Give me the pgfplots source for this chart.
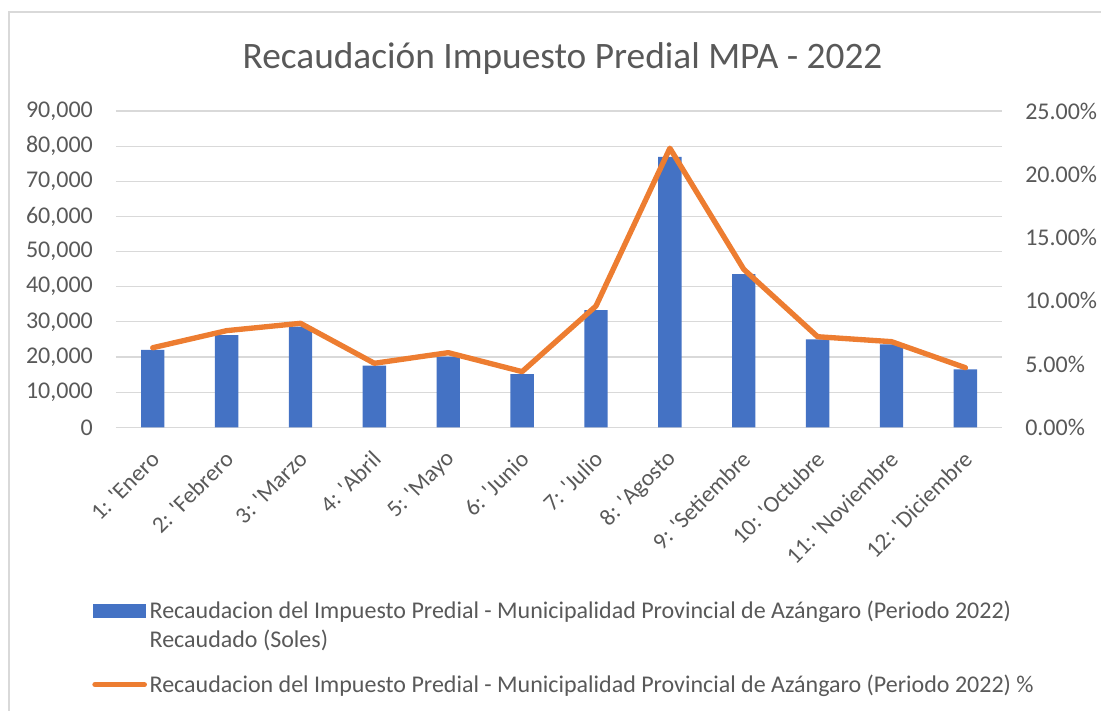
\documentclass[border=0pt]{standalone}
\usepackage{pgfplots}
\pgfplotsset{compat=1.18}
\usepackage{pgfplotstable}
\usepackage{fontspec}
\setmainfont{Carlito}
\definecolor{barblue}{HTML}{4472C4}
\definecolor{lineorange}{HTML}{ED7D31}
\definecolor{gridgray}{HTML}{D9D9D9}
\definecolor{txtgray}{HTML}{595959}

\pgfplotstableread{
m v p
1 22000 6.29
2 26260 7.64
3 28620 8.22
4 17520 5.06
5 20090 5.90
6 15160 4.40
7 33370 9.59
8 76990 22.06
9 43610 12.49
10 25030 7.16
11 23610 6.77
12 16500 4.71
}\data

\pgfplotsset{common/.style={
  scale only axis, width=664.9pt, height=237.2pt,
  at={(86.85pt,212.775pt)}, anchor=south west,
  xmin=0.5, xmax=12.5,
  ticklabel style={font=\fontsize{18}{21}\selectfont, text=txtgray},
  major tick length=0pt, tick style={draw=none},
  axis line style={draw=none},
  /pgf/number format/assume math mode=true,
}}

\begin{document}
\begin{tikzpicture}
\useasboundingbox (0,0) rectangle (825.75pt,533.25pt);
\draw[gridgray, line width=1pt] (6.75pt,-5pt) -- (6.75pt,524.25pt) -- (830pt,524.25pt);
\node[font=\fontsize{28}{33}\selectfont, text=txtgray] at (421.9pt,489pt) {Recaudación Impuesto Predial MPA - 2022};

\begin{axis}[common,
  ymin=0, ymax=90000, ytick={0,10000,...,90000},
  scaled y ticks=false,
  yticklabel style={/pgf/number format/fixed, /pgf/number format/precision=0, /pgf/number format/1000 sep={,}},
  yticklabel style={anchor=east, inner sep=0pt, xshift=-17pt},
  ymajorgrids, grid style={gridgray, line width=0.9pt},
  xtick={1,...,12},
  xticklabels={1: \textquotesingle Enero, 2: \textquotesingle Febrero, 3: \textquotesingle Marzo, 4: \textquotesingle Abril, 5: \textquotesingle Mayo, 6: \textquotesingle Junio, 7: \textquotesingle Julio, 8: \textquotesingle Agosto, 9: \textquotesingle Setiembre, 10: \textquotesingle Octubre, 11: \textquotesingle Noviembre, 12: \textquotesingle Diciembre},
  xticklabel style={font=\fontsize{17.5}{21}\selectfont, xshift=2pt, yshift=-21pt, rotate=45, anchor=east, inner sep=0pt},
]
\addplot[ybar, bar width=17.5pt, fill=barblue, draw=none] table[x=m,y=v]{\data};
\end{axis}

\begin{axis}[common,
  axis x line=none, axis y line*=right,
  ymin=0, ymax=25, ytick={0,5,...,25},
  yticklabel={\pgfmathprintnumber[fixed,fixed zerofill,precision=2]{\tick}\%},
  yticklabel style={anchor=west, inner sep=0pt, xshift=17pt},
  legend style={draw=none, fill=none, at={(-0.0268,-0.54)}, anchor=north west,
    inner sep=0pt, font=\fontsize{18}{21.75}\selectfont, text=txtgray,
    row sep=15pt, column sep=0pt, cells={align=left}},
  legend cell align=left,
]
\addlegendimage{legend image code/.code={\fill[barblue] (1pt,6pt) rectangle (40pt,15.75pt);}}
\addlegendentry{Recaudacion del Impuesto Predial - Municipalidad Provincial de Azángaro (Periodo 2022)\\Recaudado (Soles)}
\addplot[lineorange, line width=4pt, line join=round, line cap=round,
  legend image code/.code={\draw[lineorange,line width=4pt,line cap=round] (2pt,0pt) -- (39pt,0pt);}]
  table[x=m,y=p]{\data};
\addlegendentry{Recaudacion del Impuesto Predial - Municipalidad Provincial de Azángaro (Periodo 2022) \%}
\end{axis}
\end{tikzpicture}
\end{document}
